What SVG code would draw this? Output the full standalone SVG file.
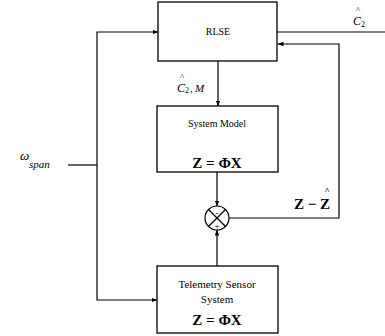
<svg xmlns="http://www.w3.org/2000/svg" width="385" height="336" viewBox="0 0 385 336">
<style>
.box{fill:#fff;stroke:#000;stroke-width:1.3}
.ln{fill:none;stroke:#000;stroke-width:1.2}
.t{font-family:"Liberation Serif",serif;fill:#000}
.b{font-family:"Liberation Serif",serif;font-weight:bold;fill:#000}
.i{font-family:"Liberation Serif",serif;font-style:italic;fill:#000}
</style>
<defs>
<marker id="ar" markerWidth="6" markerHeight="6" refX="5.5" refY="3" orient="auto" markerUnits="userSpaceOnUse">
<path d="M0,0.8 L6,3 L0,5.2 Z" fill="#000"/>
</marker>
</defs>
<rect width="385" height="336" fill="#fff"/>
<g id="connectors">
<path class="ln" d="M277,32 H385"/>
<path class="ln" d="M229,218 H339 V44 H278" marker-end="url(#ar)"/>
<path class="ln" d="M218,61 V106" marker-end="url(#ar)"/>
<path class="ln" d="M217,172 V206" marker-end="url(#ar)"/>
<path class="ln" d="M217,266 V230" marker-end="url(#ar)"/>
<path class="ln" d="M97,165 V300 H157" marker-end="url(#ar)"/>
<path class="ln" d="M97,165 V32 H158" marker-end="url(#ar)"/>
<path class="ln" d="M68,165 H97"/>
</g>
<g id="rlse">
<rect class="box" x="158" y="2" width="119" height="59"/>
<text class="t" x="218" y="35" font-size="10" text-anchor="middle">RLSE</text>
</g>
<g id="c2hat-out">
<text class="i" x="353" y="25" font-size="12">C</text>
<text class="t" x="361" y="27" font-size="8">2</text>
<text class="t" x="356" y="13" font-size="9">^</text>
</g>
<g id="c2m">
<text class="i" x="177" y="92" font-size="12">C</text>
<text class="t" x="185" y="93" font-size="8">2</text>
<text class="t" x="190" y="92" font-size="11">,</text>
<text class="i" x="195" y="92" font-size="11">M</text>
<text class="t" x="180" y="80" font-size="9">^</text>
</g>
<g id="system-model">
<rect class="box" x="157" y="106" width="121" height="66"/>
<text class="t" x="217" y="127" font-size="10" text-anchor="middle">System Model</text>
<text class="b" x="217" y="168" font-size="15" text-anchor="middle">Z = ΦX</text>
</g>
<g id="sum">
<circle cx="217" cy="218" r="12" fill="#fff" stroke="#000" stroke-width="1.2"/>
<path class="ln" d="M208.5,209.5 L225.5,226.5 M225.5,209.5 L208.5,226.5"/>
<text class="t" x="217" y="216" font-size="9" text-anchor="middle">-</text>
<text class="t" x="217" y="229" font-size="9" text-anchor="middle">+</text>
</g>
<g id="error-label">
<text class="b" x="312" y="209" font-size="15" text-anchor="middle">Z − Z</text>
<text class="b" x="327" y="194" font-size="9" text-anchor="middle">^</text>
</g>
<g id="omega">
<text class="i" x="20" y="160" font-size="13">ω</text>
<text class="i" x="29" y="168" font-size="11">span</text>
</g>
<g id="telemetry">
<rect class="box" x="157" y="266" width="121" height="67"/>
<text class="t" x="217" y="288" font-size="11" text-anchor="middle">Telemetry Sensor</text>
<text class="t" x="217" y="303" font-size="11" text-anchor="middle">System</text>
<text class="b" x="217" y="325" font-size="15" text-anchor="middle">Z = ΦX</text>
</g>
</svg>
